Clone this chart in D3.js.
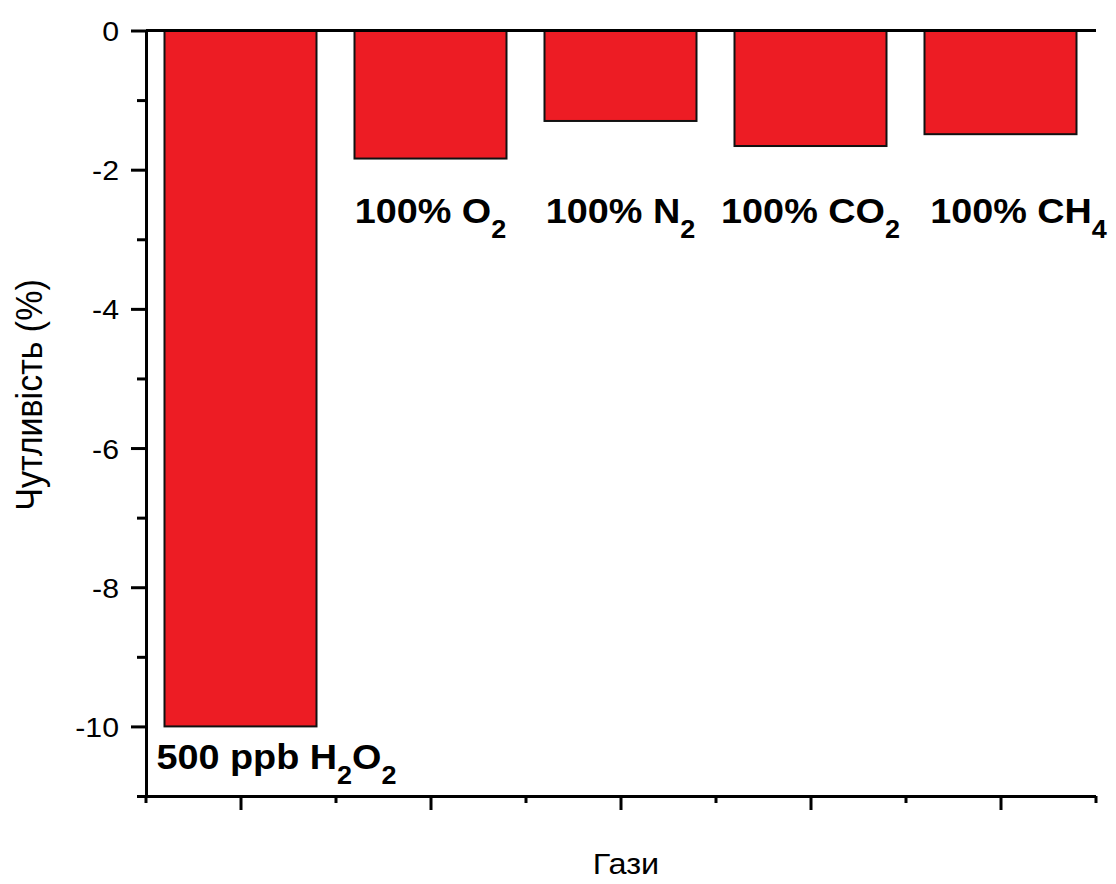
<!DOCTYPE html>
<html>
<head>
<meta charset="utf-8">
<script src="https://cdn.jsdelivr.net/npm/d3@7"></script>
<style>
  body { margin: 0; background: #fff; }
  svg { display: block; font-family: Arial, "Liberation Sans", sans-serif; }
</style>
</head>
<body>
<svg id="chart" width="1116" height="884"></svg>
<script>
// data
const gasLabels = ["500 ppb H_2O_2", "100% O_2", "100% N_2", "100% CO_2", "100% CH_4"]
const responses = [-10, -1.84, -1.30, -1.66, -1.49]
const majorY = [0, -2, -4, -6, -8, -10]
const minorY = [-1, -3, -5, -7, -9, -11]
const yTitle = "Чутливість (%)"
const xTitle = "Гази"

const svg = d3.select("#chart")
const stretch = 1.08 // the original is a bit wider than tall

// scales
var x = d3.scaleLinear().domain([0.5, 5.5]).range([145.5, 1095.5])
var y = d3.scaleLinear().domain([0, -11]).range([30.5, 796])
var x0 = 146
var barW = (x(2) - x(1)) * 0.8

// bars
svg.selectAll(".bar")
    .data(responses)
    .enter().append("rect")
    .attr("class", "bar")
    .attr("x", (d, i) => x(i + 1) - barW / 2)
    .attr("y", y(0))
    .attr("width", barW)
    .attr("height", d => y(d) - y(0))
    .attr("fill", "#ed1c24")
    .attr("stroke", "#111")
    .attr("stroke-width", 2)

// zero line
svg.append("line")
    .attr("x1", x0).attr("x2", 1096)
    .attr("y1", y(0)).attr("y2", y(0))
    .attr("stroke", "#000").attr("stroke-width", 3)

// y axis, major + minor ticks
var yAxis = svg.append("g")
    .attr("transform", `translate(${x0},0)`)
    .call(d3.axisLeft(y).tickValues(majorY).tickSize(15).tickSizeOuter(0).tickFormat(d => String(d)))
svg.append("g")
    .attr("transform", `translate(${x0},0)`)
    .call(d3.axisLeft(y).tickValues(minorY).tickSize(9).tickFormat(""))
    .select(".domain").remove()

yAxis.selectAll("text")
    .attr("font-size", 28)
    .attr("font-family", "Arial, 'Liberation Sans', sans-serif")
    .attr("fill", "#000")
    .attr("x", -25)
    .attr("dy", "0.36em")
    .attr("transform", `scale(${stretch},1)`)

// x axis, major at the bars + minor between
svg.append("g")
    .attr("transform", `translate(0,${y(-11)})`)
    .call(d3.axisBottom(x).tickValues([1, 2, 3, 4, 5]).tickSize(14).tickSizeOuter(0).tickFormat(""))
svg.append("g")
    .attr("transform", `translate(0,${y(-11)})`)
    .call(d3.axisBottom(x).tickValues([0.5, 1.5, 2.5, 3.5, 4.5, 5.5]).tickSize(7).tickFormat(""))
    .select(".domain").remove()

svg.selectAll(".domain, .tick line")
    .attr("stroke", "#000")
    .attr("stroke-width", 3)

// bar labels with subscripts
function addLabel(str, px, py, anchor) {
    var t = svg.append("text")
        .attr("transform", `translate(${px},${py}) scale(${stretch},1)`)
        .attr("text-anchor", anchor)
        .attr("font-size", 35)
        .attr("font-weight", "bold")
        .attr("fill", "#000")
    var parts = str.split(/_(\d)/)
    parts.forEach((p, k) => {
        if (p === "") return
        if (k % 2 == 1) {
            t.append("tspan").attr("font-size", 25).attr("dy", 15).text(p)
        } else {
            var ts = t.append("tspan").text(p)
            if (k > 0) ts.attr("dy", -15)
        }
    })
}

gasLabels.forEach((lab, i) => {
    if (i == 0) {
        addLabel(lab, x(1) - barW / 2 - 8, y(responses[0]) + 43, "start")
    } else {
        var shift = i == 4 ? 18 : 0
        addLabel(lab, x(i + 1) + shift, 223, "middle")
    }
})

// axis titles
svg.append("text")
    .attr("transform", `translate(42,395) scale(${stretch},1) rotate(-90)`)
    .attr("text-anchor", "middle")
    .attr("font-size", 34)
    .attr("fill", "#000")
    .text(yTitle)

svg.append("text")
    .attr("transform", `translate(626,874) scale(${stretch},1)`)
    .attr("text-anchor", "middle")
    .attr("font-size", 30)
    .attr("fill", "#000")
    .text(xTitle)
</script>
</body>
</html>
